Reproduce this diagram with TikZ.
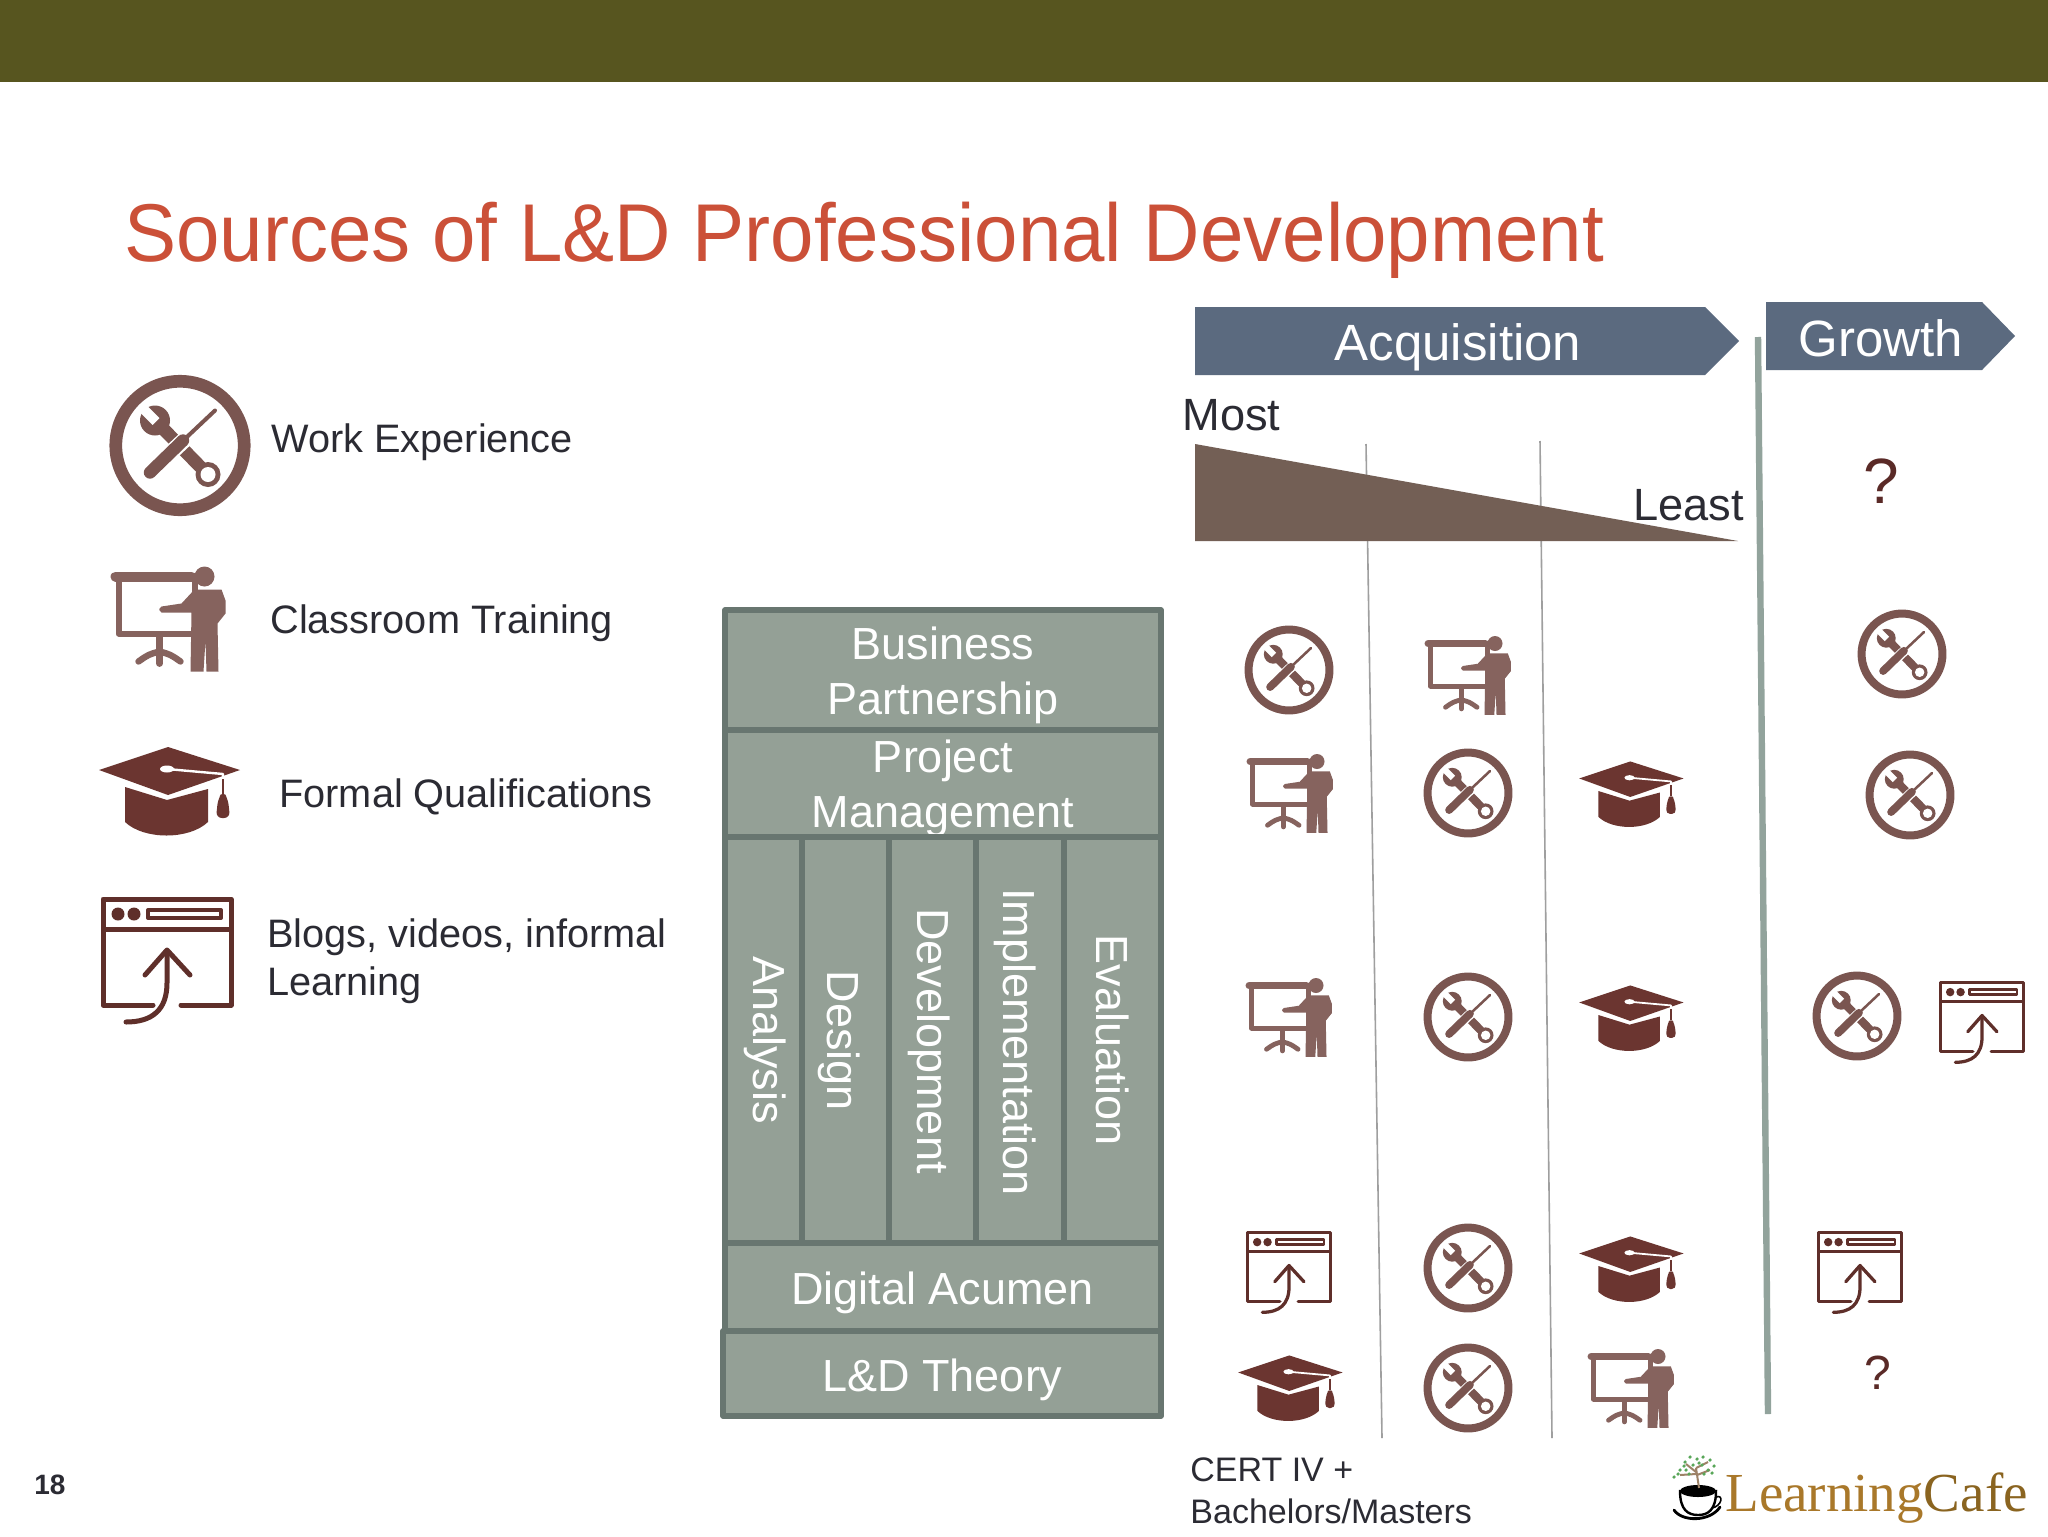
\documentclass[tikz,border=0pt]{standalone}
\usepackage{fontspec}
\setmainfont{Liberation Sans}
\newfontfamily\logofont{Liberation Serif}
\definecolor{olive}{HTML}{57551F}
\definecolor{titlered}{HTML}{CB5038}
\definecolor{slateb}{HTML}{5B6A7F}
\definecolor{wedge}{HTML}{735F55}
\definecolor{sage}{HTML}{94A096}
\definecolor{sageedge}{HTML}{687670}
\definecolor{divider}{HTML}{92A39C}
\definecolor{toolc}{HTML}{7A5550}
\definecolor{classc}{HTML}{86635E}
\definecolor{capc}{HTML}{6B3530}
\definecolor{webc}{HTML}{5F2F2A}
\definecolor{inkc}{HTML}{2B2B33}
\definecolor{qc}{HTML}{5A2A27}
\tikzset{
  x=.5pt,y=-.5pt,
  legendtext/.style={font=\fontsize{19.85}{24}\selectfont,text=inkc,anchor=west,align=left,inner sep=0},
  bandtext/.style={font=\fontsize{25.5}{30}\selectfont,text=white,inner sep=0},
  endtext/.style={font=\fontsize{22.6}{27}\selectfont,text=inkc,inner sep=0},
  cell/.style={fill=sage,draw=sageedge,line width=2.7pt,line join=round},
  celltext/.style={font=\fontsize{22.5}{27.2}\selectfont,text=white,align=center,inner sep=0},
  pics/toolsicon/.style={code={
    \begin{scope}[scale=#1,line cap=round]
      \draw[toolc,line width=#1*6.35pt] (0,0) circle (64.2);
      \draw[toolc,line width=#1*6.5pt] (-18,-18) -- (20,21);
      \fill[toolc] (-25,-25) circle (15);
      \draw[white,line width=#1*4.8pt,line cap=butt] (-38,-38) -- (-24,-24);
      \fill[toolc] (28,29) circle (12.5);
      \fill[white] (28,29) circle (7.5);
      \draw[white,line width=#1*8pt,line cap=butt] (-8,6) -- (8,-9);
      \draw[toolc,line width=#1*2pt] (0,-2) -- (35,-35);
      \draw[toolc,line width=#1*6.2pt] (-30,27) -- (3,-5);
    \end{scope}}},
  pics/classicon/.style={code={
    \begin{scope}[scale=#1,line cap=round,line join=round]
      \draw[classc,line width=#1*3pt] (-50,-42) rectangle (26,15);
      \draw[classc,line width=#1*5pt] (-53,-42) -- (23,-42);
      \draw[classc,line width=#1*3.4pt] (-9,18) -- (-9,45);
      \draw[classc,line width=#1*3.2pt] (-30,43) .. controls (-20,36) .. (-9,33) .. controls (2,36) .. (12,43);
      \fill[classc] (36,-42) circle (10);
      \fill[classc] (26,-29) -- (53,-29) -- (57,-18) -- (57,-5) -- (49,5) -- (50,53) -- (38,53) -- (37,22) -- (35,53) -- (22,53) -- (23,-6) -- (-7,-6) .. controls (-10,-9) .. (-7,-12) -- (13,-15) -- cycle;
    \end{scope}}},
  pics/capicon/.style={code={
    \begin{scope}[scale=#1,line join=round]
      \fill[capc] (-44,-4) -- (-2,9) -- (39,-2) -- (39,31) .. controls (20,49) and (-25,49) .. (-44,31) -- cycle;
      \fill[capc] (-70,-21) -- (-1,-44) -- (71,-21) -- (-1,4) -- cycle;
      \fill[white] (-2,-22) ellipse (7 and 3.5);
      \draw[white,line width=#1*1.2pt] (-2,-22) -- (54,-17) -- (54,-12);
      \draw[capc,line width=#1*1.4pt] (54,-12) -- (54,3);
      \fill[capc,rounded corners=#1*3pt] (54,0) -- (59,8) -- (61,27) -- (47,27) -- (49,8) -- cycle;
    \end{scope}}},
  pics/webicon/.style={code={
    \begin{scope}[scale=#1,line cap=round,line join=round]
      \draw[webc,line width=#1*2.5pt] (-14,45) -- (-64,45) -- (-64,-61) -- (64,-61) -- (64,45) -- (14,45);
      \draw[webc,line width=#1*2.5pt,line cap=butt] (-64,-31) -- (64,-31);
      \fill[webc] (-49,-46) circle (6.5) (-33,-46) circle (6.5);
      \draw[webc,line width=#1*2pt] (-19,-50) rectangle (54,-42);
      \draw[webc,line width=#1*2.5pt] (0,-8) -- (0,23) .. controls (0,50) and (-15,62) .. (-41,62);
      \draw[webc,line width=#1*2.5pt] (-22,15) -- (0,-10) -- (23,15);
    \end{scope}}}
}
\begin{document}
\begin{tikzpicture}
\useasboundingbox (0,0) rectangle (2048,1536);
\fill[white] (0,0) rectangle (2048,1536);
\fill[olive] (0,0) rectangle (2048,82);

\node[anchor=base west,inner sep=0,text=titlered,font=\fontsize{41}{48}\selectfont,xscale=.952,transform shape] (title) at (124,261) {Sources of L\&D Professional Development};

% legend
\pic (legtools) at (180,445.5) {toolsicon=1};
\pic (legclass) at (168.5,618.5) {classicon=1};
\pic (legcap) at (169,791) {capicon=1};
\pic (legweb) at (167,960) {webicon=1};
\node[legendtext] (lw) at (271,442) {Work Experience};
\node[legendtext] (lc) at (270,623.5) {Classroom Training};
\node[legendtext] (lf) at (279,796.5) {Formal Qualifications};
\node[legendtext] (lb) at (267,961.5) {Blogs, videos, informal\\Learning};

% skill stack
\path[cell] (725,610) rectangle (1161,730);
\node[celltext] (bp) at (943,675.5) {Business\\Partnership};
\path[cell] (725,730) rectangle (1161,837);
\node[celltext] (pm) at (943,788.5) {Project\\Management};
\path[cell] (725,837) rectangle (802,1243);
\path[cell] (802,837) rectangle (889,1243);
\path[cell] (889,837) rectangle (976,1243);
\path[cell] (976,837) rectangle (1064,1243);
\path[cell] (1064,837) rectangle (1161,1243);
\node[celltext,rotate=-90] (an) at (765,1040) {Analysis};
\node[celltext,rotate=-90] (de) at (839,1041) {Design};
\node[celltext,rotate=-90] (dv) at (929,1041) {Development};
\node[celltext,rotate=-90] (im) at (1015,1042) {Implementation};
\node[celltext,rotate=-90] (ev) at (1113,1040) {Evaluation};
\path[cell] (725,1243) rectangle (1161,1331);
\node[celltext,anchor=base] (da) at (942.5,1304) {Digital Acumen};
\path[cell] (723,1331) rectangle (1161,1416);
\node[celltext,anchor=base] (lt) at (942.5,1391) {L\&D Theory};

% column rules
\coordinate (r1a) at (1366,444); \coordinate (r1b) at (1382,1438);
\coordinate (r2a) at (1540,441); \coordinate (r2b) at (1552,1438);
\coordinate (r3a) at (1758,337); \coordinate (r3b) at (1768,1414);
\draw[gray!75,line width=.8pt] (r1a) -- (r1b);
\draw[gray!75,line width=.8pt] (r2a) -- (r2b);
\draw[divider,line width=3.2pt] (r3a) -- (r3b);

% bands
\fill[slateb] (1195,307) -- (1705,307) -- (1739,341) -- (1705,375) -- (1195,375) -- cycle;
\fill[slateb] (1766,302) -- (1982,302) -- (2015,336) -- (1982,370) -- (1766,370) -- cycle;
\node[bandtext] (acq) at (1458,347) {Acquisition};
\node[bandtext] (gro) at (1881,338) {Growth};
\fill[wedge] (1195,444) -- (1738,541) -- (1195,541) -- cycle;
\node[endtext,anchor=west] (most) at (1182,415) {Most};
\node[endtext,anchor=east] (least) at (1744,505) {Least};
\node[inner sep=0,text=qc,font=\fontsize{32}{36}\selectfont] (q1) at (1881,481) {?};
\node[inner sep=0,text=qc,font=\fontsize{24}{30}\selectfont] (q2) at (1878,1373) {?};

% icons
\pic (t1) at (1289,670) {toolsicon=.63};
\pic (t2) at (1468,793) {toolsicon=.63};
\pic (t3) at (1468,1017) {toolsicon=.63};
\pic (t4) at (1468,1268) {toolsicon=.63};
\pic (t5) at (1468,1388) {toolsicon=.63};
\pic (t6) at (1902,654) {toolsicon=.63};
\pic (t7) at (1910,795) {toolsicon=.63};
\pic (t8) at (1857,1016) {toolsicon=.63};
\pic (c1) at (1468,675) {classicon=.75};
\pic (c2) at (1290,793) {classicon=.75};
\pic (c3) at (1289,1017) {classicon=.75};
\pic (c4) at (1631,1388) {classicon=.75};
\pic (k1) at (1631,794) {capicon=.74};
\pic (k2) at (1631,1018) {capicon=.74};
\pic (k3) at (1631,1269) {capicon=.74};
\pic (k4) at (1290,1388) {capicon=.74};
\pic (w1) at (1289,1272) {webicon=.65};
\pic (w2) at (1982,1022) {webicon=.65};
\pic (w3) at (1860,1272) {webicon=.65};

% footer
\node[inner sep=0,font=\bfseries\fontsize{14}{16}\selectfont,text=inkc] (pg) at (50,1485) {18};
\node[anchor=west,inner sep=0,align=left,text=inkc,font=\fontsize{17}{21}\selectfont] (cert) at (1190,1490.5) {CERT IV +\\Bachelors/Masters};

% logo
\node[anchor=base west,inner sep=0,font=\logofont\fontsize{27.5}{30}\selectfont] (logo) at (1725,1511) {\textcolor[HTML]{A9782A}{Learning}\textcolor[HTML]{8A6420}{Cafe}};
\draw[black,line width=1.2pt,fill=white] (1680,1491) .. controls (1680,1510) and (1688,1515) .. (1698,1515) .. controls (1708,1515) and (1716,1510) .. (1716,1491) -- cycle;
\fill[black] (1698,1491) ellipse (18 and 6);
\draw[black,line width=.8pt] (1716,1497) .. controls (1724,1494) and (1722,1506) .. (1712,1508);
\draw[black,line width=1.4pt,line cap=round] (1674,1510) .. controls (1682,1522) and (1710,1522) .. (1720,1507);
\draw[brown!60!black!70,line width=1pt] (1699,1488) -- (1696,1468) (1696,1472) -- (1686,1464) (1696,1468) -- (1708,1462) (1697,1475) -- (1710,1470) (1696,1474) -- (1680,1475);
\foreach \lx/\ly in {1674/1477,1678/1474,1680/1470,1685/1462,1690/1457,1697/1459,1703/1457,1710/1460,1714/1466,1708/1470,1693/1465,1686/1470,1702/1465,1712/1473,1704/1474,1689/1474,1699/1463,1684/1466}
  \fill[green!30!gray] (\lx,\ly) circle (1.8);
\end{tikzpicture}
\end{document}
